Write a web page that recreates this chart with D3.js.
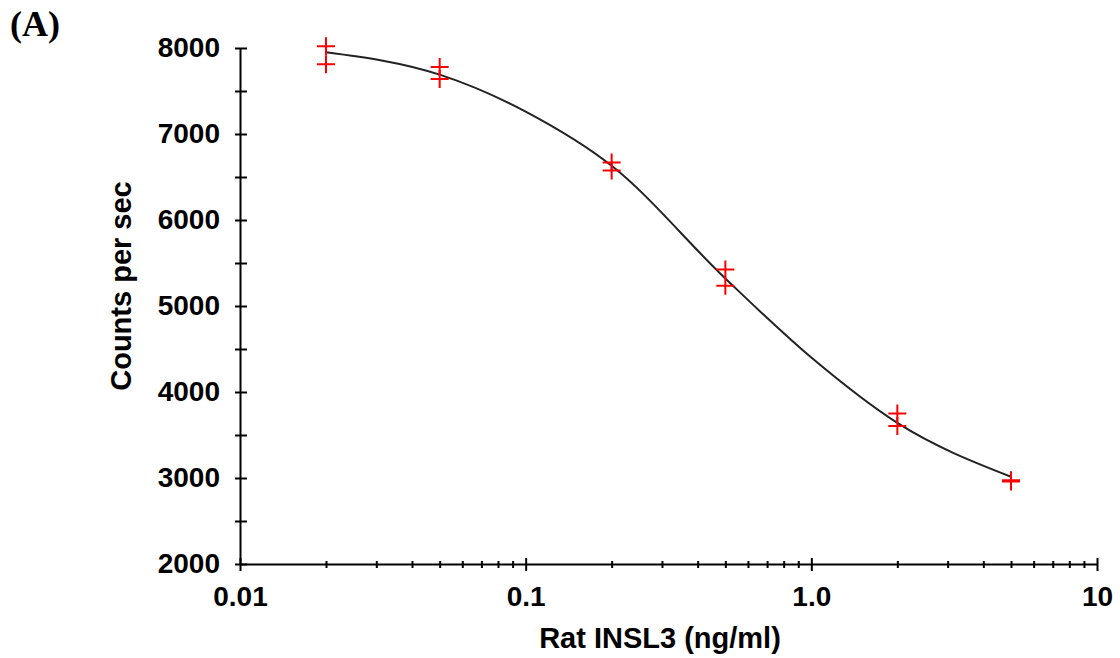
<!DOCTYPE html>
<style>
body { margin: 0; background: #fff; }
text { font-family: "Liberation Sans", Arial, sans-serif; font-weight: bold; }
.axis .domain { stroke: #000; stroke-width: 2; }
.axis line { stroke: #000; stroke-width: 2; }
</style>
<svg width="1120" height="658"></svg>
<script src="https://d3js.org/d3.v7.min.js"></script>
<script>
// measured standards (two replicates per dose)
var doses = [0.02, 0.02, 0.05, 0.05, 0.2, 0.2, 0.5, 0.5, 2, 2, 5, 5];
var counts = [8020, 7810, 7780, 7640, 6670, 6575, 5425, 5235, 3750, 3605, 2975, 2960];

// fitted curve
var fitX = [0.02, 0.05, 0.1, 0.2, 0.5, 1.0, 2, 5];
var fitY = [7950, 7690, 7260, 6630, 5320, 4400, 3640, 3015];

var xTicks = [0.01, 0.1, 1, 10];
var xTickLabels = ["0.01", "0.1", "1.0", "10"];
var yTicks = [2000, 3000, 4000, 5000, 6000, 7000, 8000];

var svg = d3.select("svg");

var x = d3.scaleLog().domain([0.01, 10]).range([240, 1097]);
var y = d3.scaleLinear().domain([2000, 8000]).range([564, 48]);

// minor x ticks
var minorX = [];
[0.01, 0.1, 1].forEach(function(d) {
  for (var k = 2; k <= 9; k++) minorX.push(d * k);
});
svg.append("g")
    .attr("class", "axis")
    .attr("transform", "translate(0,564)")
    .call(d3.axisBottom(x).tickValues(minorX).tickFormat("").tickSizeOuter(0))
    .call(function(g) {
      g.select(".domain").remove();
      g.selectAll(".tick line").attr("y1", -3).attr("y2", 4);
    });

// major x axis
svg.append("g")
    .attr("class", "axis")
    .attr("transform", "translate(0,564)")
    .call(d3.axisBottom(x).tickValues(xTicks).tickSizeOuter(0)
      .tickFormat(function(d, i) { return xTickLabels[i]; }))
    .call(function(g) {
      g.selectAll(".tick line").attr("y1", -6).attr("y2", 7);
      g.selectAll(".tick text").attr("y", 33).attr("dy", "0.32em")
        .attr("font-size", 28).attr("fill", "#000");
    });

// y axis, major + half steps
var yMinor = d3.range(2500, 8000, 1000);
svg.append("g")
    .attr("class", "axis")
    .attr("transform", "translate(240,0)")
    .call(d3.axisLeft(y).tickValues(yMinor).tickFormat("").tickSizeOuter(0))
    .call(function(g) {
      g.select(".domain").remove();
      g.selectAll(".tick line").attr("x1", -5).attr("x2", 7);
    });

svg.append("g")
    .attr("class", "axis")
    .attr("transform", "translate(240,0)")
    .call(d3.axisLeft(y).tickValues(yTicks).tickFormat(d3.format("d")).tickSizeOuter(0))
    .call(function(g) {
      g.selectAll(".tick line").attr("x1", -5).attr("x2", 7);
      g.selectAll(".tick text").attr("x", -20).attr("font-size", 28).attr("fill", "#000");
    });

// fitted curve
var line = d3.line()
    .x(function(d, i) { return x(fitX[i]); })
    .y(function(d, i) { return y(fitY[i]); })
    .curve(d3.curveMonotoneX);

svg.append("path")
    .datum(fitY)
    .attr("d", line)
    .attr("fill", "none")
    .attr("stroke", "#222")
    .attr("stroke-width", 2);

// red crosses
svg.append("g")
  .selectAll("path")
  .data(counts)
  .enter().append("path")
    .attr("transform", function(d, i) { return "translate(" + x(doses[i]) + "," + y(d) + ")"; })
    .attr("d", "M-9,0H9M0,-9V9")
    .attr("stroke", "#ff0000")
    .attr("stroke-width", 2)
    .attr("fill", "none");

// titles
svg.append("text")
    .attr("x", 660)
    .attr("y", 648)
    .attr("text-anchor", "middle")
    .attr("font-size", 29)
    .text("Rat INSL3 (ng/ml)");

svg.append("text")
    .attr("transform", "translate(131,286) rotate(-90)")
    .attr("text-anchor", "middle")
    .attr("font-size", 29)
    .text("Counts per sec");

svg.append("text")
    .attr("x", 10)
    .attr("y", 36)
    .attr("font-size", 36)
    .style("font-family", "'Liberation Serif', 'Times New Roman', serif")
    .text("(A)");
</script>
